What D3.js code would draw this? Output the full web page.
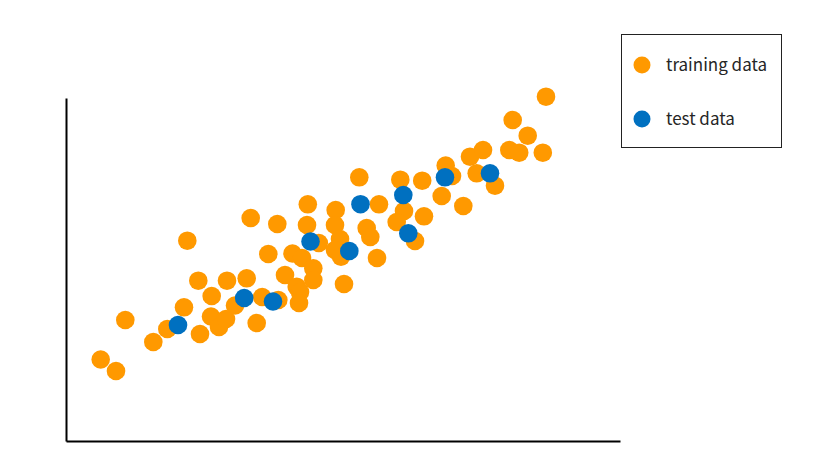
<!DOCTYPE html>
<html>
<head>
<meta charset="utf-8">
<script src="https://cdn.jsdelivr.net/npm/d3@7"></script>
<style>
  body { margin: 0; background: #fff; }
  svg { display: block; }
</style>
</head>
<body>
<svg id="chart" width="827" height="456"></svg>
<script>
const trainX = [34.7, 50, 59.3, 87.3, 101.3, 118, 121.3, 132.3, 134, 145.7, 145, 153, 160, 161, 169, 180.7,
  184.7, 190.7, 196.2, 202.3, 211.3, 212.3, 219, 226.5, 230.7, 234, 233, 236, 241.8, 241, 247.3, 247.3,
  252.8, 269.7, 269, 274, 269, 275, 278, 293.3, 300.7, 304.3, 311, 313, 334.3, 338, 330.7, 349,
  356.2, 358, 375.7, 379.7, 386, 397.3, 404, 410.7, 417, 429, 443.3, 446.7, 453.2, 461.7, 476.8, 480];
const trainY = [81.5, 70, 121, 99, 112, 133.7, 200.3, 160.3, 107, 145, 124.5, 114, 122, 160.3, 135.5, 162.7,
  223, 118, 144, 187, 217, 141, 166, 187.5, 154.3, 149, 138, 183, 236.7, 216, 172.7, 161,
  198, 231, 216, 202, 191, 184.3, 157, 263.7, 213, 204, 183, 236.7, 261.3, 230, 219, 200,
  260.3, 224.7, 245, 275.5, 265, 235, 284.3, 267.7, 291, 255.3, 291, 321, 288.3, 305.3, 288.3, 344.3];
const testX = [112, 178.2, 207, 244.5, 283.3, 294.5, 337.3, 342.3, 379, 424];
const testY = [116, 143, 139.5, 199.5, 190, 236.8, 246, 207.7, 263.7, 267.7];
const seriesNames = ["training data", "test data"];
const seriesColors = ["#FF9900", "#0070C0"];

const svg = d3.select("#chart");
const x = d3.scaleLinear().domain([0, 554]).range([66, 620]);
const y = d3.scaleLinear().domain([0, 343]).range([441, 98]);

// axes (no ticks)
svg.append("g").attr("transform", "translate(0,441)")
  .call(d3.axisBottom(x).ticks(0).tickSizeOuter(0))
  .call(g => g.select(".domain").attr("stroke", "#000").attr("stroke-width", 2));
svg.append("g").attr("transform", "translate(66,0)")
  .call(d3.axisLeft(y).ticks(0).tickSizeOuter(0))
  .call(g => g.select(".domain").attr("stroke", "#000").attr("stroke-width", 2));

const train = trainX.map((v, i) => ({x: v, y: trainY[i]}));
const test = testX.map((v, i) => ({x: v, y: testY[i]}));

svg.append("g").selectAll("circle").data(train).join("circle")
  .attr("cx", d => x(d.x)).attr("cy", d => y(d.y)).attr("r", 9.3)
  .attr("fill", seriesColors[0]);
svg.append("g").selectAll("circle").data(test).join("circle")
  .attr("cx", d => x(d.x)).attr("cy", d => y(d.y)).attr("r", 9.3)
  .attr("fill", seriesColors[1]);

// legend
const lg = svg.append("g");
lg.append("rect").attr("x", 621.5).attr("y", 34.5).attr("width", 160).attr("height", 113)
  .attr("fill", "#fff").attr("stroke", "#222").attr("stroke-width", 1);
seriesNames.forEach((name, i) => {
  const cy = 65 + i * 54;
  lg.append("circle").attr("cx", 642).attr("cy", cy).attr("r", 8.5).attr("fill", seriesColors[i]);
  lg.append("text").attr("x", 666).attr("y", cy).attr("dy", "0.35em")
    .attr("font-family", "'Noto Sans CJK JP', 'Noto Sans', sans-serif")
    .attr("font-size", 17).attr("fill", "#262626").text(name);
});
</script>
</body>
</html>
